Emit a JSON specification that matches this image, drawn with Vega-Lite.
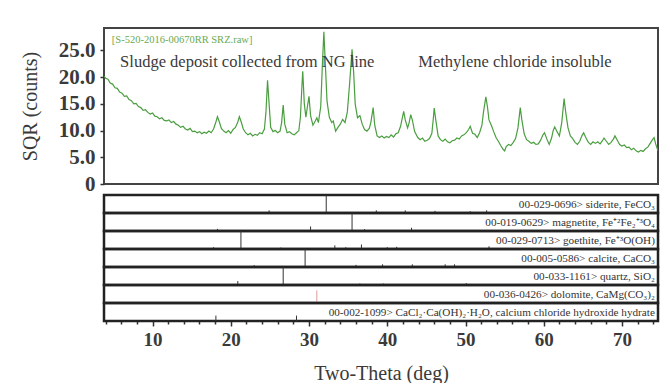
{
  "$schema": "https://vega.github.io/schema/vega-lite/v6.json",
  "padding": {"left": 19, "top": 27, "right": 0, "bottom": 0},
  "background": "white",
  "config": {
    "font": "Liberation Serif",
    "view": {"stroke": "#222", "strokeWidth": 2.5},
    "facet": {"spacing": 0},
    "axis": {"labelFont": "Liberation Serif", "titleFont": "Liberation Serif", "labelColor": "#3a3a3a", "titleColor": "#3a3a3a", "tickColor": "#333", "grid": false, "domain": false, "labelOverlap": false}
  },
  "spacing": 11,
  "bounds": "flush",
  "vconcat": [
    {
      "width": 554,
      "height": 156,
      "view": {"stroke": "#444", "strokeWidth": 2},
      "layer": [
        {
          "data": {"values": [
            {"t":3.8,"c":20.2},{"t":4.0,"c":19.8},{"t":4.3,"c":19.6},{"t":4.6,"c":18.9},{"t":4.9,"c":18.7},{"t":5.2,"c":18.0},{"t":5.5,"c":17.9},{"t":5.8,"c":17.2},{"t":6.1,"c":17.0},{"t":6.4,"c":16.4},{"t":6.7,"c":16.5},{"t":7.0,"c":15.8},{"t":7.3,"c":15.6},{"t":7.6,"c":15.0},{"t":7.9,"c":15.1},{"t":8.2,"c":14.5},{"t":8.5,"c":14.3},{"t":8.8,"c":13.8},{"t":9.1,"c":13.9},{"t":9.4,"c":13.4},{"t":9.7,"c":13.1},{"t":10.0,"c":13.3},{"t":10.3,"c":12.7},{"t":10.6,"c":12.6},{"t":10.9,"c":12.2},{"t":11.2,"c":12.4},{"t":11.5,"c":11.9},{"t":11.8,"c":11.8},{"t":12.1,"c":12.0},{"t":12.4,"c":11.5},{"t":12.7,"c":11.7},{"t":13.0,"c":11.2},{"t":13.3,"c":11.0},{"t":13.6,"c":10.6},{"t":13.9,"c":10.8},{"t":14.2,"c":10.3},{"t":14.5,"c":10.1},{"t":14.8,"c":10.4},{"t":15.1,"c":9.8},{"t":15.4,"c":9.9},{"t":15.7,"c":9.6},{"t":16.0,"c":9.8},{"t":16.3,"c":9.4},{"t":16.6,"c":9.7},{"t":16.9,"c":9.5},{"t":17.2,"c":9.9},{"t":17.5,"c":9.6},{"t":17.8,"c":10.3},{"t":18.1,"c":11.6},{"t":18.3,"c":12.6},{"t":18.5,"c":11.8},{"t":18.8,"c":10.4},{"t":19.1,"c":9.9},{"t":19.4,"c":9.6},{"t":19.7,"c":10.0},{"t":20.0,"c":9.5},{"t":20.3,"c":10.2},{"t":20.6,"c":10.6},{"t":20.9,"c":11.6},{"t":21.1,"c":12.6},{"t":21.3,"c":11.8},{"t":21.6,"c":10.3},{"t":21.9,"c":9.6},{"t":22.2,"c":9.2},{"t":22.5,"c":9.5},{"t":22.8,"c":9.0},{"t":23.1,"c":9.3},{"t":23.4,"c":9.1},{"t":23.7,"c":9.6},{"t":24.0,"c":9.4},{"t":24.3,"c":10.3},{"t":24.5,"c":13.5},{"t":24.7,"c":19.4},{"t":24.9,"c":15.0},{"t":25.1,"c":10.6},{"t":25.4,"c":9.8},{"t":25.7,"c":10.0},{"t":26.0,"c":9.6},{"t":26.3,"c":9.9},{"t":26.5,"c":11.5},{"t":26.7,"c":14.8},{"t":26.9,"c":11.2},{"t":27.2,"c":9.6},{"t":27.5,"c":9.8},{"t":27.8,"c":9.4},{"t":28.1,"c":9.2},{"t":28.4,"c":9.6},{"t":28.7,"c":10.0},{"t":28.9,"c":12.5},{"t":29.1,"c":18.5},{"t":29.2,"c":21.1},{"t":29.4,"c":15.0},{"t":29.6,"c":12.5},{"t":29.8,"c":14.5},{"t":30.0,"c":16.4},{"t":30.2,"c":12.8},{"t":30.5,"c":11.0},{"t":30.8,"c":11.8},{"t":31.0,"c":12.4},{"t":31.2,"c":11.5},{"t":31.5,"c":14.5},{"t":31.7,"c":22.0},{"t":31.9,"c":28.5},{"t":32.1,"c":22.0},{"t":32.3,"c":15.5},{"t":32.6,"c":12.5},{"t":32.9,"c":11.5},{"t":33.1,"c":11.8},{"t":33.4,"c":9.9},{"t":33.7,"c":10.6},{"t":34.0,"c":11.2},{"t":34.3,"c":12.1},{"t":34.6,"c":11.5},{"t":34.9,"c":13.5},{"t":35.2,"c":19.0},{"t":35.5,"c":25.2},{"t":35.7,"c":21.0},{"t":35.9,"c":15.0},{"t":36.2,"c":12.4},{"t":36.5,"c":12.8},{"t":36.8,"c":11.2},{"t":37.1,"c":10.2},{"t":37.4,"c":9.9},{"t":37.7,"c":10.4},{"t":37.9,"c":11.5},{"t":38.2,"c":14.3},{"t":38.4,"c":11.0},{"t":38.7,"c":9.0},{"t":39.0,"c":8.7},{"t":39.3,"c":9.0},{"t":39.6,"c":8.6},{"t":39.9,"c":8.9},{"t":40.2,"c":8.7},{"t":40.5,"c":9.2},{"t":40.8,"c":8.8},{"t":41.1,"c":9.4},{"t":41.4,"c":9.6},{"t":41.7,"c":10.8},{"t":41.9,"c":12.2},{"t":42.1,"c":13.6},{"t":42.3,"c":12.0},{"t":42.6,"c":10.5},{"t":42.8,"c":11.5},{"t":43.0,"c":13.0},{"t":43.2,"c":12.0},{"t":43.5,"c":9.8},{"t":43.9,"c":8.7},{"t":44.2,"c":8.3},{"t":44.5,"c":8.6},{"t":44.8,"c":8.0},{"t":45.1,"c":8.2},{"t":45.4,"c":8.5},{"t":45.7,"c":9.5},{"t":45.9,"c":12.5},{"t":46.0,"c":14.2},{"t":46.2,"c":12.0},{"t":46.5,"c":9.0},{"t":46.8,"c":8.3},{"t":47.1,"c":8.0},{"t":47.4,"c":8.4},{"t":47.7,"c":7.9},{"t":48.0,"c":7.7},{"t":48.3,"c":8.1},{"t":48.6,"c":8.2},{"t":48.9,"c":8.6},{"t":49.2,"c":8.4},{"t":49.5,"c":9.0},{"t":49.8,"c":9.2},{"t":50.1,"c":9.6},{"t":50.4,"c":10.2},{"t":50.6,"c":10.8},{"t":50.9,"c":9.5},{"t":51.2,"c":9.3},{"t":51.5,"c":8.7},{"t":51.8,"c":9.6},{"t":52.1,"c":11.0},{"t":52.3,"c":13.5},{"t":52.6,"c":16.3},{"t":52.8,"c":14.5},{"t":53.0,"c":12.0},{"t":53.3,"c":11.0},{"t":53.6,"c":9.8},{"t":53.9,"c":8.7},{"t":54.2,"c":8.0},{"t":54.5,"c":7.2},{"t":54.8,"c":6.5},{"t":55.0,"c":6.2},{"t":55.2,"c":7.0},{"t":55.5,"c":7.4},{"t":55.8,"c":7.2},{"t":56.1,"c":7.8},{"t":56.4,"c":8.5},{"t":56.7,"c":10.5},{"t":57.0,"c":14.3},{"t":57.2,"c":12.0},{"t":57.5,"c":9.4},{"t":57.8,"c":8.3},{"t":58.1,"c":8.0},{"t":58.4,"c":7.6},{"t":58.7,"c":7.8},{"t":59.0,"c":7.4},{"t":59.3,"c":7.5},{"t":59.6,"c":8.2},{"t":59.9,"c":9.2},{"t":60.1,"c":9.6},{"t":60.4,"c":8.4},{"t":60.7,"c":7.4},{"t":61.0,"c":8.6},{"t":61.2,"c":10.0},{"t":61.4,"c":10.7},{"t":61.7,"c":9.8},{"t":62.0,"c":9.0},{"t":62.3,"c":11.5},{"t":62.6,"c":16.0},{"t":62.8,"c":13.5},{"t":63.1,"c":10.5},{"t":63.4,"c":9.0},{"t":63.7,"c":8.5},{"t":64.0,"c":7.8},{"t":64.3,"c":7.4},{"t":64.6,"c":8.0},{"t":64.9,"c":9.1},{"t":65.1,"c":9.6},{"t":65.4,"c":8.6},{"t":65.7,"c":7.8},{"t":66.0,"c":7.4},{"t":66.3,"c":7.9},{"t":66.6,"c":7.6},{"t":66.9,"c":7.9},{"t":67.2,"c":7.5},{"t":67.5,"c":8.1},{"t":67.7,"c":8.6},{"t":68.0,"c":8.0},{"t":68.3,"c":7.4},{"t":68.6,"c":7.8},{"t":68.9,"c":8.4},{"t":69.1,"c":9.0},{"t":69.4,"c":8.2},{"t":69.7,"c":7.4},{"t":70.0,"c":7.1},{"t":70.3,"c":7.3},{"t":70.6,"c":6.8},{"t":70.9,"c":6.9},{"t":71.2,"c":6.4},{"t":71.5,"c":6.7},{"t":71.8,"c":6.2},{"t":72.1,"c":6.0},{"t":72.4,"c":6.3},{"t":72.7,"c":6.1},{"t":73.0,"c":6.6},{"t":73.3,"c":6.9},{"t":73.6,"c":7.6},{"t":73.9,"c":8.3},{"t":74.1,"c":8.7},{"t":74.3,"c":7.5},{"t":74.6,"c":6.2}
          ]},
          "mark": {"type": "line", "color": "#4a9e3f", "strokeWidth": 1.2, "clip": true},
          "encoding": {
            "x": {"field": "t", "type": "quantitative", "scale": {"domain": [3.8, 74.6], "nice": false, "zero": false}, "axis": null},
            "y": {"field": "c", "type": "quantitative", "scale": {"domain": [0, 29.2], "nice": false},
              "axis": {"title": "SQR (counts)", "values": [0, 5, 10, 15, 20, 25], "tickCount": 100, "labelOverlap": false, "labelExpr": "datum.value == 0 ? '0' : format(datum.value, '.1f')", "labelFontSize": 21, "labelFontWeight": "bold", "titleFontSize": 20, "tickSize": 4, "tickWidth": 1.5, "labelPadding": 5, "titlePadding": 18, "titleFontWeight": "normal"}}
          }
        },
        {
          "data": {"values": [{"t": 4.8, "c": 26.9, "s": "[S-520-2016-00670RR SRZ.raw]"}]},
          "mark": {"type": "text", "align": "left", "baseline": "middle", "fontSize": 10.5, "color": "#6aaa50", "font": "Liberation Serif"},
          "encoding": {"x": {"field": "t", "type": "quantitative"}, "y": {"field": "c", "type": "quantitative"}, "text": {"field": "s"}}
        },
        {
          "data": {"values": [{"t": 5.86, "c": 22.8, "s": "Sludge deposit collected from NG line"}, {"t": 43.96, "c": 22.8, "s": "Methylene chloride insoluble"}]},
          "mark": {"type": "text", "align": "left", "baseline": "middle", "fontSize": 16.5, "color": "#3a3a3a", "font": "Liberation Serif"},
          "encoding": {"x": {"field": "t", "type": "quantitative"}, "y": {"field": "c", "type": "quantitative"}, "text": {"field": "s"}}
        }
      ]
    },
    {
      "data": {"values": [
        {"order":1,"phase":"00-029-0696> siderite, FeCO₃","t":24.9,"h":15,"main":0},
        {"order":1,"phase":"00-029-0696> siderite, FeCO₃","t":32.2,"h":100,"main":1},
        {"order":1,"phase":"00-029-0696> siderite, FeCO₃","t":38.6,"h":15,"main":0},
        {"order":1,"phase":"00-029-0696> siderite, FeCO₃","t":42.3,"h":15,"main":0},
        {"order":1,"phase":"00-029-0696> siderite, FeCO₃","t":46.1,"h":12,"main":0},
        {"order":1,"phase":"00-029-0696> siderite, FeCO₃","t":50.6,"h":10,"main":0},
        {"order":1,"phase":"00-029-0696> siderite, FeCO₃","t":52.7,"h":15,"main":0},
        {"order":2,"phase":"00-019-0629> magnetite, Fe⁺²Fe₂⁺³O₄","t":18.3,"h":12,"main":0},
        {"order":2,"phase":"00-019-0629> magnetite, Fe⁺²Fe₂⁺³O₄","t":30.2,"h":25,"main":0},
        {"order":2,"phase":"00-019-0629> magnetite, Fe⁺²Fe₂⁺³O₄","t":35.5,"h":100,"main":1},
        {"order":2,"phase":"00-019-0629> magnetite, Fe⁺²Fe₂⁺³O₄","t":37.1,"h":10,"main":0},
        {"order":2,"phase":"00-019-0629> magnetite, Fe⁺²Fe₂⁺³O₄","t":43.1,"h":18,"main":0},
        {"order":3,"phase":"00-029-0713> goethite, Fe⁺³O(OH)","t":17.8,"h":10,"main":0},
        {"order":3,"phase":"00-029-0713> goethite, Fe⁺³O(OH)","t":21.3,"h":100,"main":1},
        {"order":3,"phase":"00-029-0713> goethite, Fe⁺³O(OH)","t":26.4,"h":8,"main":0},
        {"order":3,"phase":"00-029-0713> goethite, Fe⁺³O(OH)","t":33.3,"h":20,"main":0},
        {"order":3,"phase":"00-029-0713> goethite, Fe⁺³O(OH)","t":34.7,"h":10,"main":0},
        {"order":3,"phase":"00-029-0713> goethite, Fe⁺³O(OH)","t":36.7,"h":25,"main":0},
        {"order":3,"phase":"00-029-0713> goethite, Fe⁺³O(OH)","t":40.0,"h":10,"main":0},
        {"order":3,"phase":"00-029-0713> goethite, Fe⁺³O(OH)","t":41.2,"h":12,"main":0},
        {"order":3,"phase":"00-029-0713> goethite, Fe⁺³O(OH)","t":53.0,"h":15,"main":0},
        {"order":4,"phase":"00-005-0586> calcite, CaCO₃","t":23.0,"h":10,"main":0},
        {"order":4,"phase":"00-005-0586> calcite, CaCO₃","t":29.5,"h":100,"main":1},
        {"order":4,"phase":"00-005-0586> calcite, CaCO₃","t":36.0,"h":12,"main":0},
        {"order":4,"phase":"00-005-0586> calcite, CaCO₃","t":39.4,"h":15,"main":0},
        {"order":4,"phase":"00-005-0586> calcite, CaCO₃","t":43.2,"h":15,"main":0},
        {"order":4,"phase":"00-005-0586> calcite, CaCO₃","t":47.4,"h":15,"main":0},
        {"order":4,"phase":"00-005-0586> calcite, CaCO₃","t":48.6,"h":15,"main":0},
        {"order":5,"phase":"00-033-1161> quartz, SiO₂","t":20.9,"h":22,"main":0},
        {"order":5,"phase":"00-033-1161> quartz, SiO₂","t":26.7,"h":100,"main":1},
        {"order":5,"phase":"00-033-1161> quartz, SiO₂","t":36.5,"h":8,"main":0},
        {"order":5,"phase":"00-033-1161> quartz, SiO₂","t":39.5,"h":8,"main":0},
        {"order":5,"phase":"00-033-1161> quartz, SiO₂","t":50.1,"h":10,"main":0},
        {"order":6,"phase":"00-036-0426> dolomite, CaMg(CO₃)₂","t":31.0,"h":70,"main":1},
        {"order":6,"phase":"00-036-0426> dolomite, CaMg(CO₃)₂","t":41.1,"h":8,"main":0},
        {"order":6,"phase":"00-036-0426> dolomite, CaMg(CO₃)₂","t":50.5,"h":8,"main":0},
        {"order":7,"phase":"00-002-1099> CaCl₂·Ca(OH)₂·H₂O, calcium chloride hydroxide hydrate","t":18.1,"h":30,"main":1},
        {"order":7,"phase":"00-002-1099> CaCl₂·Ca(OH)₂·H₂O, calcium chloride hydroxide hydrate","t":28.4,"h":30,"main":0}
      ]},
      "spacing": {"row": 0},
      "bounds": "flush",
      "facet": {"row": {"field": "order", "type": "ordinal", "header": null}},
      "spec": {
        "width": 554,
        "height": 18,
        "layer": [
          {
            "mark": {"type": "rule", "strokeWidth": 1},
            "encoding": {
              "x": {"field": "t", "type": "quantitative", "scale": {"domain": [3.8, 74.6], "nice": false, "zero": false},
                "axis": {"title": "Two-Theta (deg)", "tickCount": 100, "labelOverlap": false, "values": [4,6,8,10,12,14,16,18,20,22,24,26,28,30,32,34,36,38,40,42,44,46,48,50,52,54,56,58,60,62,64,66,68,70,72,74],
                  "labelExpr": "datum.value % 10 === 0 ? datum.value : ''", "tickSize": {"condition": {"test": "datum.value % 10 === 0", "value": 5}, "value": 3}, "tickWidth": 1.5,
                  "labelFontSize": 19, "labelFontWeight": "bold", "titleFontSize": 20, "labelPadding": 4, "titlePadding": 14, "titleFontWeight": "normal"}},
              "y": {"field": "h", "type": "quantitative", "scale": {"domain": [0, 100], "nice": false}, "axis": null},
              "y2": {"datum": 0},
              "color": {"field": "order", "type": "ordinal", "scale": {"domain": [1,2,3,4,5,6,7], "range": ["#333","#333","#333","#333","#333","#e09a9a","#333"]}, "legend": null}
            }
          },
          {
            "transform": [{"filter": "datum.main == 1"}],
            "mark": {"type": "text", "align": "right", "baseline": "middle", "fontSize": 11.2, "color": "#333", "font": "Liberation Serif"},
            "encoding": {
              "x": {"datum": 74.2},
              "y": {"datum": 45},
              "text": {"field": "phase"}
            }
          }
        ]
      }
    }
  ]
}
